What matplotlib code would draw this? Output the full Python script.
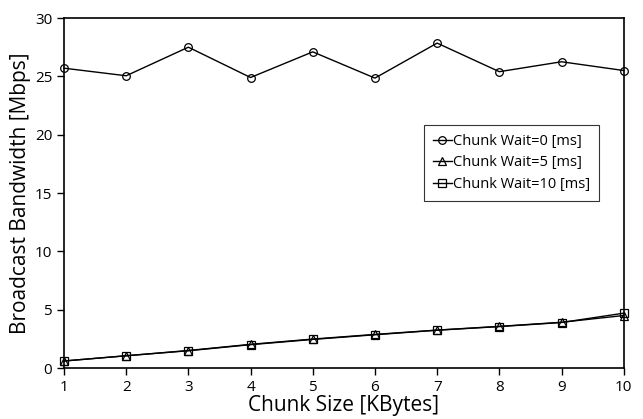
import matplotlib.pyplot as plt

plt.rcParams['font.family'] = ['Open Sans', 'DejaVu Sans']

# Chunk size in KBytes
chunk_size = [1, 2, 3, 4, 5, 6, 7, 8, 9, 10]

# Broadcast bandwidth (Mbps) for each chunk wait
wait_0 = [25.7, 25.05, 27.5, 24.9, 27.1, 24.85, 27.85, 25.4, 26.25, 25.5]
wait_5 = [0.6, 1.05, 1.5, 2.03, 2.48, 2.88, 3.25, 3.57, 3.92, 4.5]
wait_10 = [0.6, 1.05, 1.48, 2.0, 2.45, 2.85, 3.24, 3.55, 3.9, 4.7]

fig = plt.figure(figsize=(6.43, 4.19), dpi=100)
ax = fig.add_axes([0.0995, 0.1217, 0.8705, 0.8353])

style = dict(color='black', linewidth=1.0, markerfacecolor='none',
             markeredgecolor='black', markersize=5.5, markeredgewidth=0.9,
             clip_on=False)
ax.plot(chunk_size, wait_0, marker='o', label='Chunk Wait=0 [ms]', **style)
ax.plot(chunk_size, wait_5, marker='^', label='Chunk Wait=5 [ms]', **style)
ax.plot(chunk_size, wait_10, marker='s', label='Chunk Wait=10 [ms]', **style)

ax.set_xlim(1, 10)
ax.set_ylim(0, 30)
ax.set_xticks(range(1, 11))
ax.set_yticks(range(0, 31, 5))
ax.tick_params(direction='out', length=5, labelsize=11, width=1)
for side in ['left', 'right', 'top', 'bottom']:
    ax.spines[side].set_linewidth(1.2)

ax.set_xlabel('Chunk Size [KBytes]', fontsize=15, labelpad=0)
ax.set_ylabel('Broadcast Bandwidth [Mbps]', fontsize=15, labelpad=3)

leg = ax.legend(loc='upper left', bbox_to_anchor=(0.630, 0.715), fontsize=10.5,
                frameon=True, fancybox=False, edgecolor='black',
                handlelength=1.3, handletextpad=0.1, borderpad=0.6,
                labelspacing=0.45)
leg.get_frame().set_linewidth(0.8)

plt.savefig('out.png', dpi=100)
